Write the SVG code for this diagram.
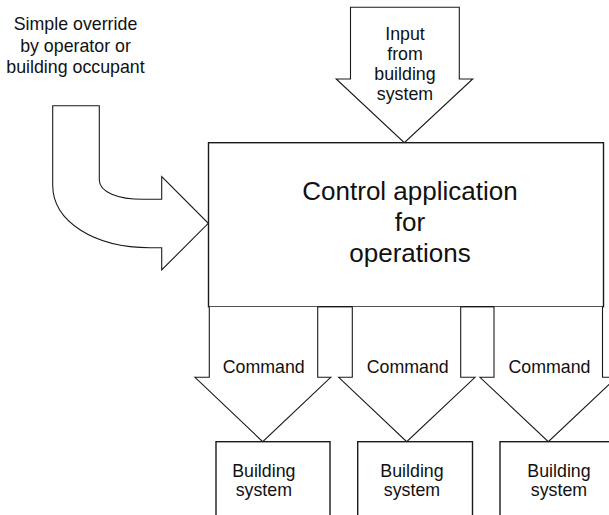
<svg xmlns="http://www.w3.org/2000/svg" width="609" height="515" viewBox="0 0 609 515">
<style>
.bg{fill:#ffffff}
.box{fill:#ffffff;stroke:#1a1a1a;stroke-width:1.4}
.arr{fill:#ffffff;stroke:#1a1a1a;stroke-width:1.1;stroke-linejoin:miter}
text{font-family:"Liberation Sans",Arial,Helvetica,sans-serif;fill:#111111;text-anchor:middle}
.t18{font-size:17.8px}
.t26{font-size:26px}
</style>
<rect class="bg" x="0" y="0" width="609" height="515"/>
<g id="connectors">
  <g id="override-arrow">
    <path class="arr" d="M52.7,105.7 H99.3 V180 C99.3,192 118,199.3 143,199.3 H161.7 V176.7 L208.3,223.3 L161.7,270 V247.7 H150 C95,247.7 52.7,222 52.7,185 Z"/>
  </g>
  <g id="input-arrow">
    <path class="arr" d="M350.5,7.3 H459.3 V79 H472.7 L404.3,142.7 L336.2,79 H350.5 Z"/>
    <text class="t18" x="405" y="39.5">Input</text>
    <text class="t18" x="405" y="59.8">from</text>
    <text class="t18" x="405" y="80">building</text>
    <text class="t18" x="405" y="100.2">system</text>
  </g>
</g>
<g id="main">
  <rect class="box" x="208.5" y="142.7" width="395" height="164"/>
  <text class="t26" x="410" y="200">Control application</text>
  <text class="t26" x="410" y="231">for</text>
  <text class="t26" x="410" y="262">operations</text>
</g>
<g id="command-arrows">
  <g id="cmd1">
    <path class="arr" d="M209.3,306.7 V377.3 H195 L262.7,441.7 L330.7,377.3 H317.7 V306.7"/>
    <text class="t18" x="263.7" y="373.3">Command</text>
  </g>
  <g id="cmd2">
    <path class="arr" d="M352.3,306.7 V377.3 H338.7 L406.7,441.7 L475,377.3 H460.7 V306.7"/>
    <text class="t18" x="407.7" y="373.3">Command</text>
  </g>
  <g id="cmd3">
    <path class="arr" d="M494,306.7 V377.3 H480 L548.3,441.7 L616.5,377.3 H602.5 V306.7"/>
    <text class="t18" x="549.5" y="373.3">Command</text>
  </g>
</g>
<g id="override-label">
  <text class="t18" x="75.5" y="30">Simple override</text>
  <text class="t18" x="75.5" y="51.5">by operator or</text>
  <text class="t18" x="75.5" y="72.7">building occupant</text>
</g>
<g id="bs1">
  <rect class="box" x="216" y="441.7" width="114" height="90"/>
  <text class="t18" x="263.8" y="477.3">Building</text>
  <text class="t18" x="263.8" y="496">system</text>
</g>
<g id="bs2">
  <rect class="box" x="357.7" y="441.7" width="114.8" height="90"/>
  <text class="t18" x="412" y="477.3">Building</text>
  <text class="t18" x="412" y="496">system</text>
</g>
<g id="bs3">
  <rect class="box" x="500" y="441.7" width="114" height="90"/>
  <text class="t18" x="559" y="477.3">Building</text>
  <text class="t18" x="559" y="496">system</text>
</g>
</svg>
